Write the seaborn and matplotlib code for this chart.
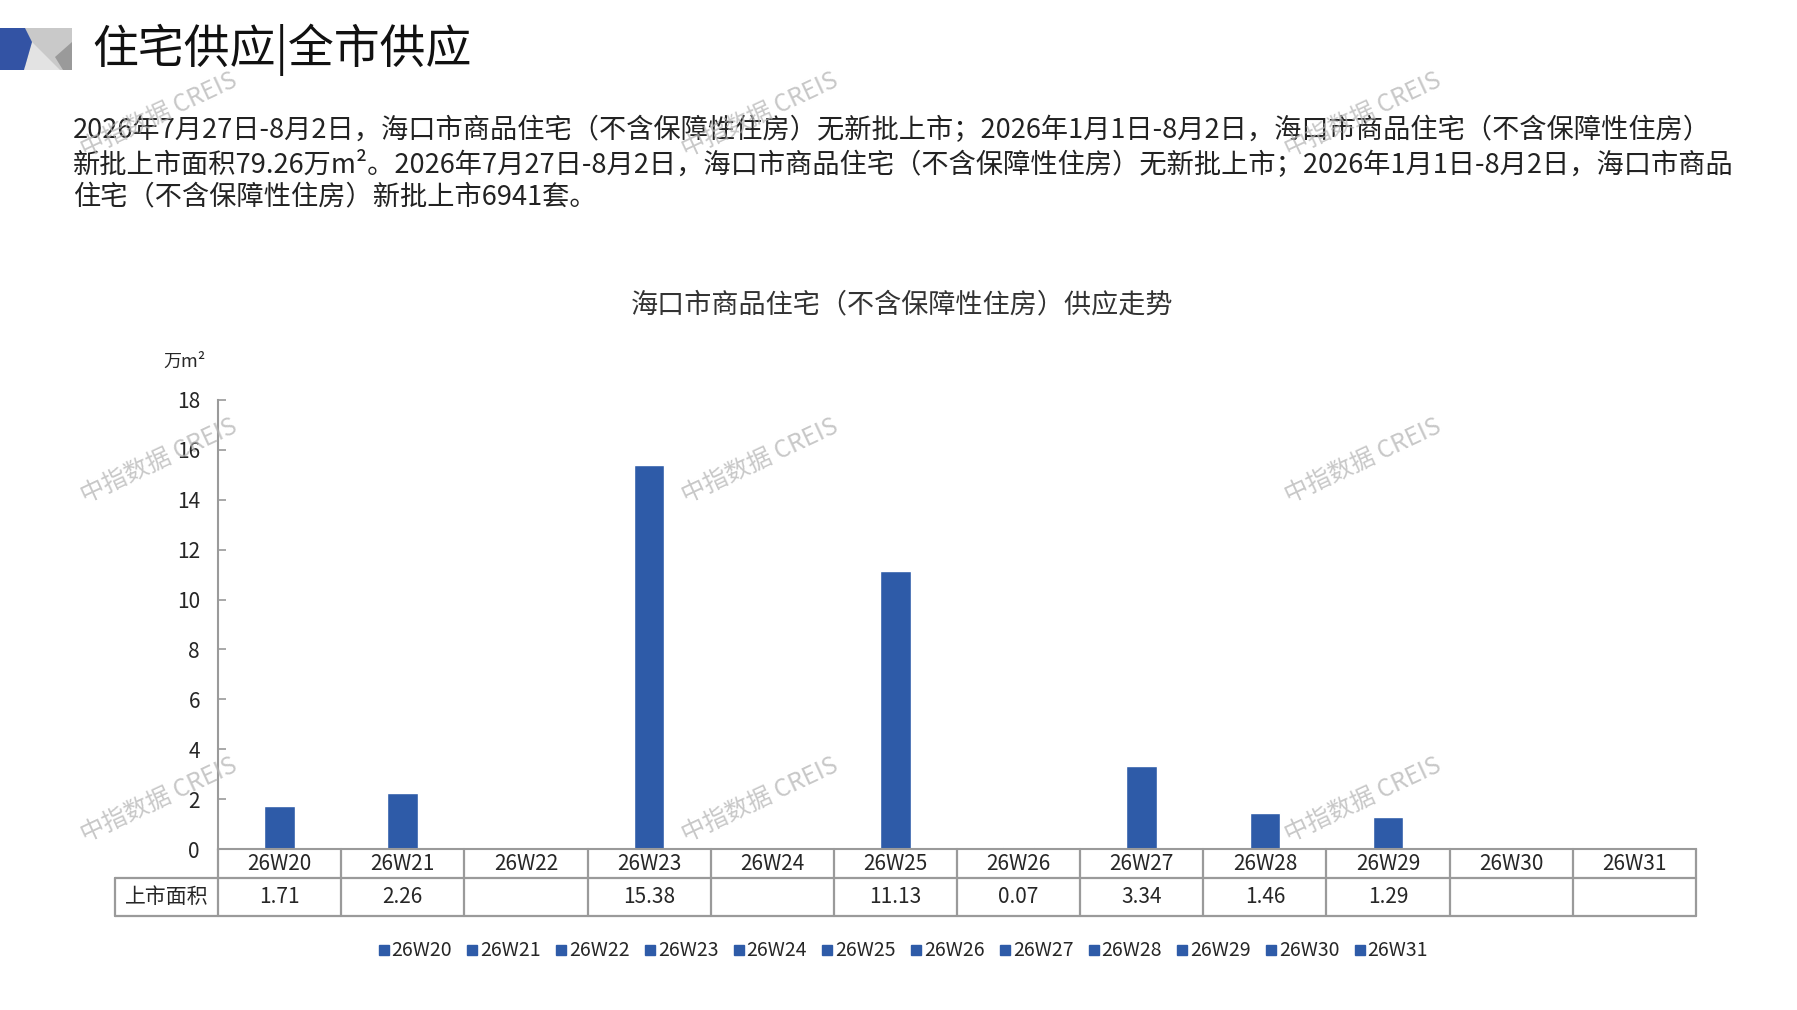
import numpy as np
import pandas as pd
import matplotlib
matplotlib.use("Agg")
import matplotlib.pyplot as plt
import seaborn as sns
from matplotlib.patches import Polygon
from matplotlib.lines import Line2D

# ---------------- data ----------------
weeks = ["26W20", "26W21", "26W22", "26W23", "26W24", "26W25",
         "26W26", "26W27", "26W28", "26W29", "26W30", "26W31"]
supply_area = [1.71, 2.26, np.nan, 15.38, np.nan, 11.13,
               0.07, 3.34, 1.46, 1.29, np.nan, np.nan]
y_ticks = [0, 2, 4, 6, 8, 10, 12, 14, 16, 18]
row_label = "上市面积"
unit_label = "万m²"
chart_title = "海口市商品住宅（不含保障性住房）供应走势"
page_title = "住宅供应|全市供应"
para_lines = [
    "2026年7月27日-8月2日，海口市商品住宅（不含保障性住房）无新批上市；2026年1月1日-8月2日，海口市商品住宅（不含保障性住房）",
    "新批上市面积79.26万m²。2026年7月27日-8月2日，海口市商品住宅（不含保障性住房）无新批上市；2026年1月1日-8月2日，海口市商品",
    "住宅（不含保障性住房）新批上市6941套。",
]
watermark = "中指数据 CREIS"

BAR = "#2E5BA8"
GRID = "#9a9a9a"

sns.set_theme(style="white")
plt.rcParams["font.family"] = ["Noto Sans CJK SC", "DejaVu Sans"]

W, H = 1797, 1010
fig = plt.figure(figsize=(W / 100, H / 100), dpi=100)
fig.patch.set_facecolor("white")


def P(x, y):
    return (x / W, 1 - y / H)


# axes placement (pixels from top-left)
ax_l, ax_r, ax_t, ax_b = 218, 1696, 400, 849
ax = fig.add_axes([ax_l / W, 1 - ax_b / H, (ax_r - ax_l) / W, (ax_b - ax_t) / H])

df = pd.DataFrame({"week": weeks, "area": supply_area})
sns.barplot(data=df, x="week", y="area", order=weeks, color=BAR,
            saturation=1, width=0.25, ax=ax)
ax.set_xlim(-0.5, len(weeks) - 0.5)
ax.set_ylim(0, 18)
ax.set_yticks(y_ticks)
ax.set_yticklabels([str(t) for t in y_ticks], fontsize=15)
ax.set_xticks([])
ax.set_xlabel("")
ax.set_ylabel("")
for s in ["top", "right"]:
    ax.spines[s].set_visible(False)
for s in ["left", "bottom"]:
    ax.spines[s].set_color(GRID)
    ax.spines[s].set_linewidth(1.5)
ax.tick_params(axis="y", direction="in", length=6, width=1.2, color=GRID, pad=13, left=True)
ax.set_facecolor("white")

# ---------------- table under the axis ----------------
px_per_unit = (ax_b - ax_t) / 18.0
px_per_cat = (ax_r - ax_l) / len(weeks)
row1_bot = -(878 - ax_b) / px_per_unit
row2_bot = -(916 - ax_b) / px_per_unit
tbl_left = -0.5 - (ax_l - 115) / px_per_cat
n = len(weeks)
lk = dict(color=GRID, lw=1.6, clip_on=False)
for i in range(n + 1):
    ax.plot([i - 0.5, i - 0.5], [0, row2_bot], **lk)
ax.plot([tbl_left, n - 0.5], [row1_bot, row1_bot], **lk)
ax.plot([tbl_left, n - 0.5], [row2_bot, row2_bot], **lk)
ax.plot([tbl_left, tbl_left], [row1_bot, row2_bot], **lk)
for i, (wk, v) in enumerate(zip(weeks, supply_area)):
    ax.text(i, row1_bot / 2, wk, ha="center", va="center", fontsize=15, clip_on=False)
    if not np.isnan(v):
        ax.text(i, (row1_bot + row2_bot) / 2, f"{v:.2f}", ha="center", va="center",
                fontsize=15, clip_on=False)
ax.text((tbl_left - 0.5) / 2, (row1_bot + row2_bot) / 2, row_label, ha="center",
        va="center", fontsize=15, clip_on=False)

# ---------------- legend ----------------
handles = [Line2D([], [], marker="s", linestyle="none", color=BAR, markersize=7) for _ in weeks]
fig.legend(handles, weeks, loc="center", bbox_to_anchor=P(903, 951), ncol=len(weeks),
           frameon=False, fontsize=14, handlelength=0.6, handletextpad=0.1,
           columnspacing=0.75)

# ---------------- texts ----------------
fig.text(*P(902, 305), chart_title, ha="center", va="center", fontsize=19.5, color="#333333")
fig.text(*P(185, 362), unit_label, ha="center", va="center", fontsize=13)
fig.text(*P(92, 50), page_title, ha="left", va="center", fontsize=33, color="#111111")

# header decoration
fig.patches.append(Polygon([P(25, 28), P(72, 28), P(72, 70), P(25, 70)], closed=True,
                           transform=fig.transFigure, facecolor="#c9c9c9", edgecolor="none"))
fig.patches.append(Polygon([P(32, 42), P(60, 70), P(24, 70)], closed=True,
                           transform=fig.transFigure, facecolor="#e3e3e3", edgecolor="none"))
fig.patches.append(Polygon([P(72, 42), P(55, 57), P(63, 70), P(72, 70)], closed=True,
                           transform=fig.transFigure, facecolor="#9a9a9a", edgecolor="none"))
fig.patches.append(Polygon([P(0, 28), P(25, 28), P(32, 42), P(24, 70), P(0, 70)], closed=True,
                           transform=fig.transFigure, facecolor="#3353A4", edgecolor="none"))

# paragraph, fitted to widths
renderer = fig.canvas.get_renderer()
targets = [1711 - 73, 1728 - 73, None]
ys = [130, 164, 197]
base = 19
fitted = []
for line, tgt, yy in zip(para_lines, targets, ys):
    t = fig.text(*P(73, yy), line, ha="left", va="center", fontsize=base, color="#222222")
    fitted.append((t, tgt))
sizes = []
for t, tgt in fitted:
    if tgt is not None:
        w = t.get_window_extent(renderer=renderer).width
        sizes.append(base * tgt / w)
fs = float(np.mean(sizes))
for t, _ in fitted:
    t.set_fontsize(fs)

# watermarks
for (wx, wy) in [(159, 115), (760, 115), (1363, 115),
                 (159, 461), (760, 461), (1363, 461),
                 (159, 800), (760, 800), (1363, 800)]:
    fig.text(*P(wx, wy), watermark, ha="center", va="center", rotation=25,
             fontsize=17.5, color="#b5b5b5", alpha=0.75, zorder=10)

fig.savefig("out.png", dpi=100, facecolor="white")
